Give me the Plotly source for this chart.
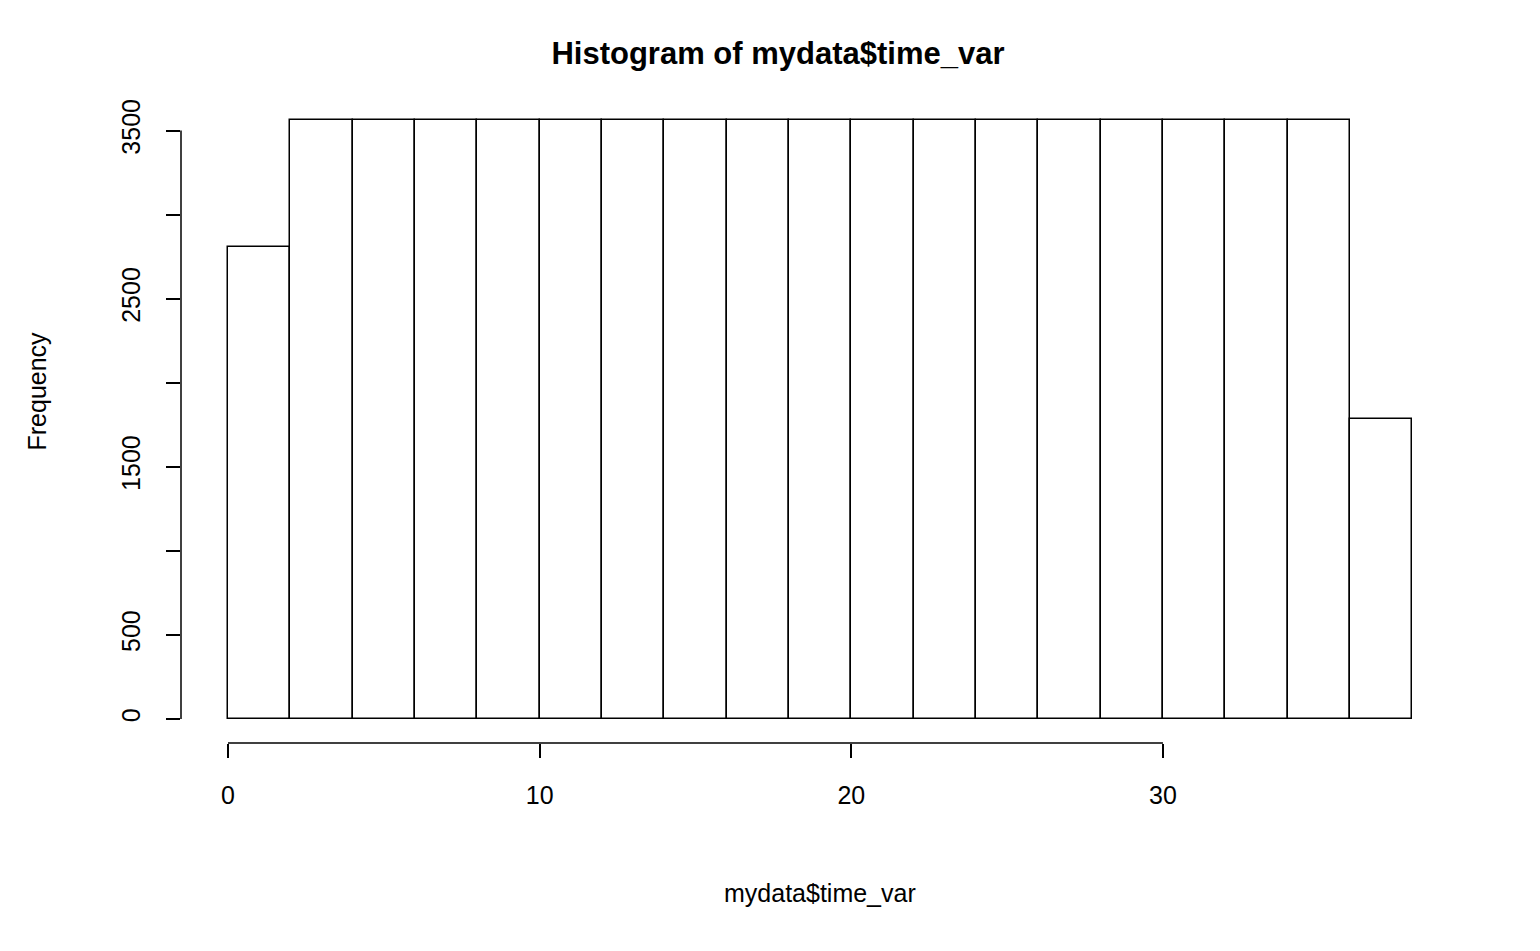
import plotly.graph_objects as go

bin_left = list(range(0, 38, 2))
counts = [2810, 3565, 3565, 3565, 3565, 3565, 3565, 3565, 3565, 3565,
          3565, 3565, 3565, 3565, 3565, 3565, 3565, 3565, 1786]
x_ticks = [0, 10, 20, 30]
y_ticks = [0, 500, 1500, 2500, 3500]
y_tick_all = [0, 500, 1000, 1500, 2000, 2500, 3000, 3500]

font = "Liberation Sans, Arial, sans-serif"
centers = [b + 1 for b in bin_left]

fig = go.Figure(go.Bar(
    x=centers, y=counts, width=2,
    marker=dict(color="white", line=dict(color="black", width=1.5)),
))

# R-style detached axis lines
fig.add_shape(type="line", xref="x", yref="paper", x0=0, x1=30, y0=0, y1=0,
              line=dict(color="black", width=1.5))
fig.add_shape(type="line", xref="paper", yref="y", x0=0, x1=0, y0=0, y1=3500,
              line=dict(color="black", width=1.5))

fig.update_layout(
    width=1540, height=951,
    paper_bgcolor="white", plot_bgcolor="white",
    margin=dict(l=173, r=89, t=89, b=216, autoexpand=False),
    showlegend=False, bargap=0,
    font=dict(family=font, size=25, color="black"),
    title=dict(text="<b>Histogram of mydata$time_var</b>", x=0.5, xanchor="center",
               y=0.953, yanchor="middle", font=dict(size=31)),
    xaxis=dict(range=[-1.508, 39.5], tickvals=x_ticks, ticks="outside", ticklen=14,
               tickwidth=1.5, tickcolor="black", showline=False, showgrid=False,
               zeroline=False, ticklabelstandoff=16),
    yaxis=dict(range=[-143, 3700], tickvals=y_tick_all,
               ticktext=[str(v) if v in y_ticks else "" for v in y_tick_all],
               ticks="outside", ticklen=14, tickwidth=1.5, tickcolor="black",
               tickangle=-90, showline=False, showgrid=False, zeroline=False,
               ticklabelstandoff=16),
    annotations=[
        dict(text="mydata$time_var", xref="paper", yref="paper", x=0.5, y=-0.232,
             xanchor="center", yanchor="middle", showarrow=False),
        dict(text="Frequency", xref="paper", yref="paper", x=-0.113, y=0.545,
             xanchor="center", yanchor="middle", textangle=-90, showarrow=False),
    ],
)

fig.write_html("out.html")
